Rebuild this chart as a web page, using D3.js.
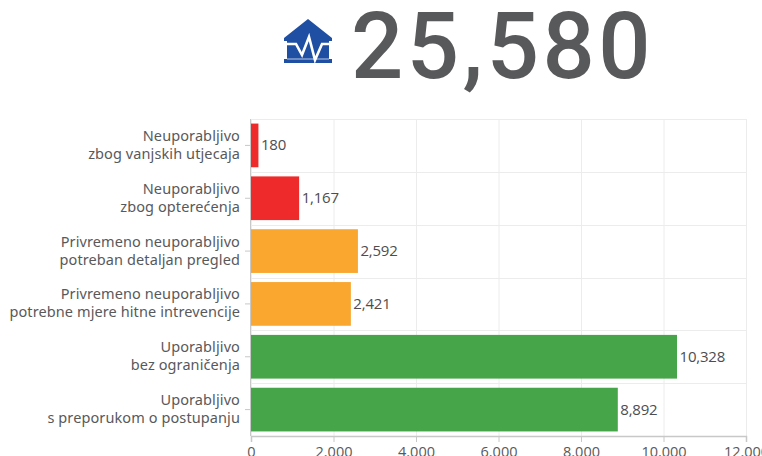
<!DOCTYPE html>
<html>
<head>
<meta charset="utf-8">
<script src="https://cdn.jsdelivr.net/npm/d3@7"></script>
<style>
    html, body { margin: 0; padding: 0; background: #fff; }
    #chart { width: 762px; height: 456px; overflow: hidden; }
    .cat { font-family: "Noto Sans", sans-serif; font-size: 14.5px; fill: #58595b; text-anchor: end; letter-spacing: 0.1px; }
    .val { font-family: "Open Sans", sans-serif; font-size: 15px; fill: #4d4d4f; letter-spacing: -0.2px; }
    .axis text { font-family: "Open Sans", sans-serif; font-size: 14.5px; fill: #58595b; }
    .total { font-family: Roboto, sans-serif; font-weight: 500; font-size: 92px; fill: #58595b; letter-spacing: 3.5px; }
</style>
</head>
<body>
<div id="chart"></div>
<script>
const total = "25,580";
const categories = [
    ["Neuporabljivo", "zbog vanjskih utjecaja"],
    ["Neuporabljivo", "zbog opterećenja"],
    ["Privremeno neuporabljivo", "potreban detaljan pregled"],
    ["Privremeno neuporabljivo", "potrebne mjere hitne intrevencije"],
    ["Uporabljivo", "bez ograničenja"],
    ["Uporabljivo", "s preporukom o postupanju"]
];
const values = [180, 1167, 2592, 2421, 10328, 8892];
const barColors = ["#ee2a2a", "#ee2a2a", "#f9a72f", "#f9a72f", "#45a548", "#45a548"];
const xTicks = [0, 2000, 4000, 6000, 8000, 10000, 12000];

const width = 762;
const height = 456;
const margin = { top: 119, left: 251, right: 16, bottom: 20 };

const svg = d3.select("#chart")
    .append("svg")
    .attr("width", width)
    .attr("height", height);

//scales
const xScale = d3.scaleLinear()
    .domain([0, 12000])
    .range([margin.left, width - margin.right]);
const yScale = d3.scaleBand()
    .domain(d3.range(categories.length))
    .range([margin.top, height - margin.bottom])
    .paddingInner(0.173)
    .paddingOuter(0.0865);
const bandStep = yScale.step();
const bandStart = margin.top;

//grid
svg.selectAll(".gridV")
    .data(xTicks)
    .enter()
    .append("line")
    .attr("x1", d => xScale(d) + 0.5)
    .attr("x2", d => xScale(d) + 0.5)
    .attr("y1", margin.top)
    .attr("y2", height - margin.bottom)
    .attr("stroke", "#ececec");
svg.selectAll(".gridH")
    .data(d3.range(categories.length))
    .enter()
    .append("line")
    .attr("x1", margin.left)
    .attr("x2", width - margin.right)
    .attr("y1", d => Math.round(bandStart + bandStep * d) + 0.5)
    .attr("y2", d => Math.round(bandStart + bandStep * d) + 0.5)
    .attr("stroke", "#ececec");

//bars
svg.selectAll(".bar")
    .data(values)
    .enter()
    .append("rect")
    .attr("class", "bar")
    .attr("x", margin.left)
    .attr("y", (d, i) => yScale(i))
    .attr("width", d => xScale(d) - margin.left)
    .attr("height", yScale.bandwidth())
    .attr("fill", (d, i) => barColors[i]);

//value labels
svg.selectAll(".val")
    .data(values)
    .enter()
    .append("text")
    .attr("class", "val")
    .attr("x", d => xScale(d) + 2.5)
    .attr("y", (d, i) => yScale(i) + yScale.bandwidth() / 2 + 5)
    .text(d => d3.format(",")(d));

//axes
const xAxis = svg.append("g")
    .attr("class", "axis")
    .attr("transform", `translate(0,${height - margin.bottom})`)
    .call(d3.axisBottom(xScale)
        .tickValues(xTicks)
        .tickFormat(d => d === 0 ? "0" : d3.format(",")(d).replace(",", "."))
        .tickSize(6)
        .tickPadding(5));
xAxis.selectAll("line").attr("stroke", "#c8c8c8");
xAxis.select(".domain").attr("stroke", "#c8c8c8").attr("stroke-width", 1.5);

svg.append("line")
    .attr("x1", margin.left - 0.5)
    .attr("x2", margin.left - 0.5)
    .attr("y1", margin.top)
    .attr("y2", height - margin.bottom)
    .attr("stroke", "#c8c8c8");

//category labels
const catLabels = svg.selectAll(".cat")
    .data(categories)
    .enter()
    .append("text")
    .attr("class", "cat")
    .attr("y", (d, i) => yScale(i) + yScale.bandwidth() / 2);
catLabels.append("tspan")
    .attr("x", margin.left - 11)
    .attr("dy", -4.5)
    .text(d => d[0]);
catLabels.append("tspan")
    .attr("x", margin.left - 11)
    .attr("dy", 18)
    .text(d => d[1]);

svg.selectAll(".catTick")
    .data(categories)
    .enter()
    .append("line")
    .attr("x1", margin.left - 6)
    .attr("x2", margin.left)
    .attr("y1", (d, i) => yScale(i) + yScale.bandwidth() / 2)
    .attr("y2", (d, i) => yScale(i) + yScale.bandwidth() / 2)
    .attr("stroke", "#c8c8c8");

//house icon
const icon = svg.append("g").attr("transform", "translate(284,19)");
icon.append("path")
    .attr("fill", "#1f4fa3")
    .attr("d", "M24,0 L48,19 L48,22 L45,22 L45,40 L48,40 L48,44 L0,44 L0,40 L3,40 L3,22 L0,22 L0,19 Z");
icon.append("path")
    .attr("fill", "none")
    .attr("stroke", "#fff")
    .attr("stroke-width", 2.6)
    .attr("d", "M0,25 L12,25 L18,36 L25,18 L31,41 L38,25 L48,25");
icon.append("path")
    .attr("stroke", "#fff")
    .attr("stroke-width", 0.7)
    .attr("d", "M3,40 L45,40");

//big number
svg.append("text")
    .attr("class", "total")
    .attr("x", 351)
    .attr("y", 78)
    .text(total);
</script>
</body>
</html>
